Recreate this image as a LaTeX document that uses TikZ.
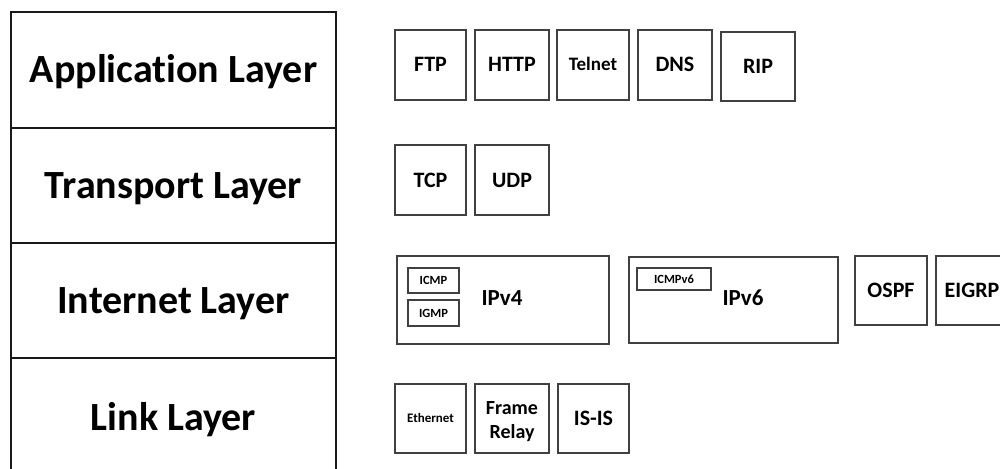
\documentclass[tikz,border=0pt]{standalone}
\usepackage{fontspec}
\setmainfont{Carlito}[Ligatures=NoCommon]
\begin{document}
\begin{tikzpicture}[x=1pt,y=-1pt,
  layer/.style={draw=black!90,line width=1.8pt,minimum width=325pt,inner sep=0pt,
    font=\fontsize{40}{48}\selectfont\bfseries,text height=26pt,text depth=0pt},
  pbox/.style={draw=black!75,line width=1.4pt,inner sep=0pt,minimum width=#1,
    font=\fontsize{22}{26}\selectfont\bfseries,text height=14pt,text depth=0pt},
  pbox/.default=72pt,
  sbox/.style={draw=black!75,line width=1.2pt,inner sep=0pt,minimum width=51pt,
    font=\fontsize{12.5}{14}\selectfont\bfseries,text height=8pt,text depth=0pt},
  lbl/.style={inner sep=0pt,font=\fontsize{23}{27}\selectfont\bfseries,text height=15pt,text depth=0pt}]
\clip (0,0) rectangle (1000,468);
\fill[white] (0,0) rectangle (1000,468);
% layers
\node[layer,minimum height=116pt] (app) at (173.5,70) {Application Layer};
\node[layer,minimum height=115pt] (trans) at (173.5,185.5) {Transport Layer};
\node[layer,minimum height=115pt] (inet) at (173.5,300.5) {Internet Layer};
\node[layer,minimum height=118pt] (link) at (173.5,417) {Link Layer};
% application
\node[pbox=71pt,minimum height=70pt] (ftp) at (430.5,65) {FTP};
\node[pbox=74pt,minimum height=70pt] (http) at (512,65) {HTTP};
\node[pbox=72pt,minimum height=70pt,font=\fontsize{19}{22}\selectfont\bfseries,text height=12pt] (telnet) at (593,65) {Telnet};
\node[pbox=74pt,minimum height=70pt] (dns) at (675,65) {DNS};
\node[pbox=74pt,minimum height=69pt] (rip) at (758,66.5) {RIP};
% transport
\node[pbox=71pt,minimum height=70pt] (tcp) at (430.5,180) {TCP};
\node[pbox=74pt,minimum height=70pt] (udp) at (512,180) {UDP};
% internet
\node[pbox=212pt,minimum height=88pt] (ipv4box) at (503,300) {};
\node[lbl] (ipv4) at (502,298) {IPv4};
\node[sbox,minimum height=25pt] (icmp) at (433.5,280.5) {ICMP};
\node[sbox,minimum height=26pt] (igmp) at (433.5,313) {IGMP};
\node[pbox=209pt,minimum height=86pt] (ipv6box) at (733.5,300) {};
\node[lbl] (ipv6) at (743,298) {IPv6};
\node[sbox,minimum width=74pt,minimum height=22pt] (icmpv6) at (674,279) {ICMPv6};
\node[pbox=72pt,minimum height=69pt] (ospf) at (891,290.5) {OSPF};
\node[pbox=72pt,minimum height=69pt] (eigrp) at (972,290.5) {EIGRP};
% link
\node[pbox=71pt,minimum height=69pt,font=\fontsize{13}{15}\selectfont\bfseries,text height=8.5pt] (eth) at (430.5,418.5) {Ethernet};
\node[pbox=74pt,minimum height=69pt] (framebox) at (512,418.5) {};
\node[lbl,font=\fontsize{20}{24}\selectfont\bfseries,text height=13pt] (frame1) at (512,408) {Frame};
\node[lbl,font=\fontsize{20}{24}\selectfont\bfseries,text height=13pt] (frame2) at (512,432) {Relay};
\node[pbox=71pt,minimum height=69pt] (isis) at (593.5,418.5) {IS-IS};
\end{tikzpicture}
\end{document}
